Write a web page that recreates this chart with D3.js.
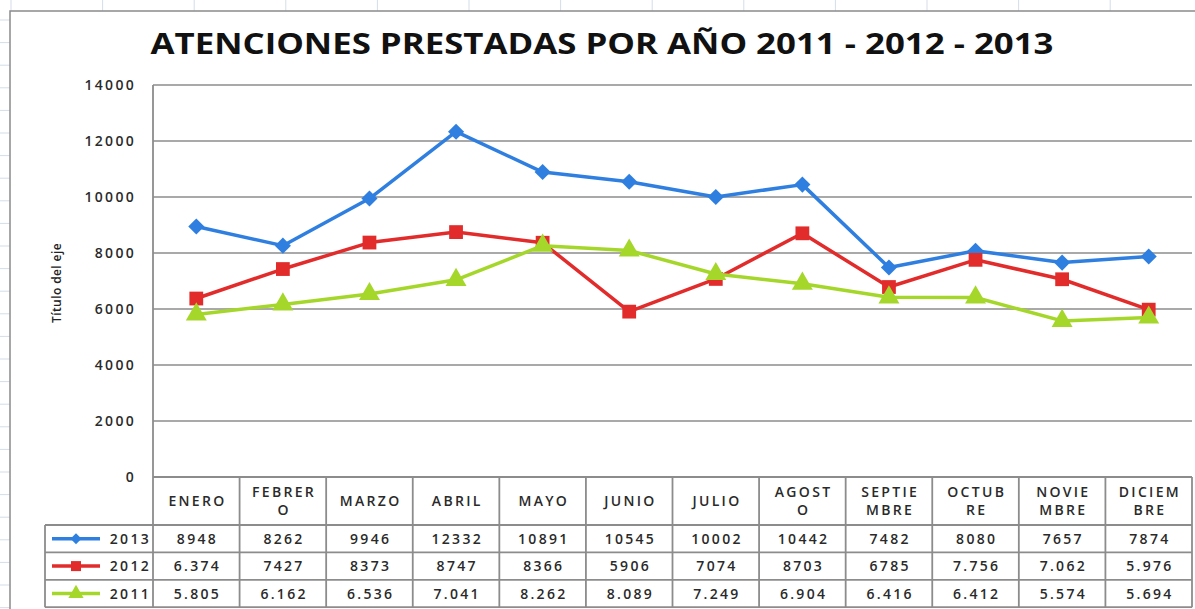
<!DOCTYPE html>
<meta charset="utf-8">
<script src="https://d3js.org/d3.v7.min.js"></script>
<style>
  body { margin: 0; background: #fff; }
  svg { display: block; }
</style>
<svg id="chart" width="1195" height="609"></svg>
<script>

// data
var months = ["ENERO", "FEBRERO", "MARZO", "ABRIL", "MAYO", "JUNIO", "JULIO",
              "AGOSTO", "SEPTIEMBRE", "OCTUBRE", "NOVIEMBRE", "DICIEMBRE"];
// how excel wrapped the month names in the table cells
var monthLines = [["ENERO"], ["FEBRER", "O"], ["MARZO"], ["ABRIL"], ["MAYO"], ["JUNIO"], ["JULIO"],
                  ["AGOST", "O"], ["SEPTIE", "MBRE"], ["OCTUB", "RE"], ["NOVIE", "MBRE"], ["DICIEM", "BRE"]];
var years = ["2013", "2012", "2011"];
var values2013 = [8948, 8262, 9946, 12332, 10891, 10545, 10002, 10442, 7482, 8080, 7657, 7874];
var values2012 = [6374, 7427, 8373, 8747, 8366, 5906, 7074, 8703, 6785, 7756, 7062, 5976];
var values2011 = [5805, 6162, 6536, 7041, 8262, 8089, 7249, 6904, 6416, 6412, 5574, 5694];
// table text exactly as shown
var labels2013 = ["8948", "8262", "9946", "12332", "10891", "10545", "10002", "10442", "7482", "8080", "7657", "7874"];
var labels2012 = ["6.374", "7427", "8373", "8747", "8366", "5906", "7074", "8703", "6785", "7.756", "7.062", "5.976"];
var labels2011 = ["5.805", "6.162", "6.536", "7.041", "8.262", "8.089", "7.249", "6.904", "6.416", "6.412", "5.574", "5.694"];
var yTicks = [0, 2000, 4000, 6000, 8000, 10000, 12000, 14000];

var series = [
    { name: years[0], values: values2013, labels: labels2013, color: "#2f7fe0", marker: "diamond" },
    { name: years[1], values: values2012, labels: labels2012, color: "#e22b2b", marker: "square" },
    { name: years[2], values: values2011, labels: labels2011, color: "#a5d72b", marker: "triangle" }
];

// excel style markers: diamond is a square turned 45 degrees
function markerPath(kind, big) {
    if (kind === "diamond") return d3.symbol().type(d3.symbolSquare).size(big ? 130 : 60)();
    if (kind === "square") return d3.symbol().type(d3.symbolSquare).size(big ? 190 : 100)();
    return d3.symbol().type(d3.symbolTriangle).size(big ? 190 : 100)();
}
function markerRot(kind) { return kind === "diamond" ? " rotate(45)" : ""; }

var svg = d3.select("#chart");
var W = 1195, H = 609;

// excel sheet grid behind the chart
var sheet = svg.append("g");
for (var gx = 11; gx < W; gx += 91.6) {
    sheet.append("line").attr("x1", gx).attr("x2", gx).attr("y1", 0).attr("y2", H)
        .attr("stroke", "#d4dde9").attr("stroke-width", 1);
}
for (var gy = 20; gy < H; gy += 22.6) {
    sheet.append("line").attr("x1", 0).attr("x2", W).attr("y1", gy).attr("y2", gy)
        .attr("stroke", "#d4dde9").attr("stroke-width", 1);
}

// chart frame
svg.append("rect")
    .attr("x", 10).attr("y", 11).attr("width", W + 10).attr("height", H + 10)
    .attr("fill", "#fff").attr("stroke", "#8a8a8a").attr("stroke-width", 1.5);

svg.append("text")
    .attr("x", 602).attr("y", 54)
    .attr("text-anchor", "middle")
    .style("font-family", "'Open Sans', sans-serif")
    .style("font-weight", "bold")
    .style("font-size", "28px")
    .attr("fill", "#111")
    .attr("textLength", 903)
    .attr("lengthAdjust", "spacingAndGlyphs")
    .text("ATENCIONES PRESTADAS POR AÑO 2011 - 2012 - 2013");

var plotLeft = 153, plotRight = 1192, plotTop = 85, plotBottom = 477;

var x = d3.scaleBand().domain(months).range([plotLeft, plotRight]);
var y = d3.scaleLinear().domain([0, 14000]).range([plotBottom, plotTop]);

var cellFont = function (sel) {
    return sel.style("font-family", "'Open Sans', sans-serif")
        .style("font-weight", "600")
        .style("font-size", "14px")
        .style("letter-spacing", "2.3px")
        .attr("fill", "#2a2a2a");
};

// gridlines
svg.append("g").selectAll("line")
    .data(yTicks.filter(function (d) { return d > 0; }))
    .join("line")
    .attr("x1", plotLeft).attr("x2", plotRight)
    .attr("y1", function (d) { return y(d); }).attr("y2", function (d) { return y(d); })
    .attr("stroke", "#8c8c8c").attr("stroke-width", 1.5);

// y axis labels
var yAxis = svg.append("g")
    .attr("transform", "translate(" + plotLeft + ",0)")
    .call(d3.axisLeft(y).tickValues(yTicks).tickSize(0).tickPadding(17).tickFormat(d3.format("d")));
yAxis.select(".domain").remove();
yAxis.selectAll("text").call(cellFont).attr("dy", "0.3em");

svg.append("text")
    .attr("transform", "translate(61,283) rotate(-90)")
    .attr("text-anchor", "middle")
    .style("font-family", "'Open Sans', sans-serif")
    .style("font-weight", "600")
    .style("font-size", "12px")
    .style("letter-spacing", "0.4px")
    .attr("fill", "#222")
    .text("Título del eje");

// lines and markers, 2011 drawn last (on top)
var line = d3.line()
    .x(function (d, i) { return x(months[i]) + x.bandwidth() / 2; })
    .y(function (d) { return y(d); });

series.forEach(function (s) {
    var g = svg.append("g");
    g.append("path")
        .attr("d", line(s.values))
        .attr("fill", "none")
        .attr("stroke", s.color)
        .attr("stroke-width", 3.5)
        .attr("stroke-linejoin", "round");
    g.selectAll("path.mark")
        .data(s.values)
        .join("path")
        .attr("class", "mark")
        .attr("transform", function (d, i) {
            return "translate(" + (x(months[i]) + x.bandwidth() / 2) + "," + y(d) + ")" + markerRot(s.marker);
        })
        .attr("d", markerPath(s.marker, true))
        .attr("fill", s.color);
});

// data table
var headerTop = plotBottom, headerBottom = 525, rowH = 27.4, legendLeft = 45;
var tbl = svg.append("g");

// header cells
months.forEach(function (m, i) {
    var cx = x(m) + x.bandwidth() / 2 + 1.2;
    var lines = monthLines[i];
    var t = tbl.append("text").attr("text-anchor", "middle").call(cellFont);
    var cy = (headerTop + headerBottom) / 2;
    lines.forEach(function (ln, k) {
        t.append("tspan")
            .attr("x", cx)
            .attr("y", cy + 5 + (k - (lines.length - 1) / 2) * 18)
            .text(ln);
    });
});

// data rows
series.forEach(function (s, r) {
    var ry = headerBottom + r * rowH;
    s.labels.forEach(function (lab, i) {
        tbl.append("text")
            .attr("x", x(months[i]) + x.bandwidth() / 2 + 1.2)
            .attr("y", ry + rowH / 2 + 5)
            .attr("text-anchor", "middle")
            .call(cellFont)
            .text(lab);
    });
    // legend key
    var ly = ry + rowH / 2;
    tbl.append("line")
        .attr("x1", 52).attr("x2", 100).attr("y1", ly).attr("y2", ly)
        .attr("stroke", s.color).attr("stroke-width", 3.5);
    tbl.append("path")
        .attr("transform", "translate(76," + ly + ")" + markerRot(s.marker))
        .attr("d", markerPath(s.marker, false))
        .attr("fill", s.color);
    tbl.append("text")
        .attr("x", 151).attr("y", ly + 5)
        .attr("text-anchor", "end")
        .call(cellFont)
        .text(s.name);
});

// table borders
var gridColor = "#8c8c8c";
var tableBottom = headerBottom + 3 * rowH;
var borders = tbl.append("g").attr("stroke", gridColor).attr("stroke-width", 1.8);
// horizontal
borders.append("line").attr("x1", plotLeft).attr("x2", plotRight).attr("y1", headerTop).attr("y2", headerTop);
[0, 1, 2, 3].forEach(function (r) {
    var yy = headerBottom + r * rowH;
    borders.append("line").attr("x1", legendLeft).attr("x2", plotRight).attr("y1", yy).attr("y2", yy);
});
// vertical
x.domain().forEach(function (m) {
    borders.append("line").attr("x1", x(m)).attr("x2", x(m)).attr("y1", headerTop).attr("y2", tableBottom);
});
borders.append("line").attr("x1", plotRight).attr("x2", plotRight).attr("y1", headerTop).attr("y2", tableBottom);
borders.append("line").attr("x1", legendLeft).attr("x2", legendLeft).attr("y1", headerBottom).attr("y2", tableBottom);
// plot area left edge
borders.append("line").attr("x1", plotLeft).attr("x2", plotLeft).attr("y1", plotTop).attr("y2", headerTop);

</script>
